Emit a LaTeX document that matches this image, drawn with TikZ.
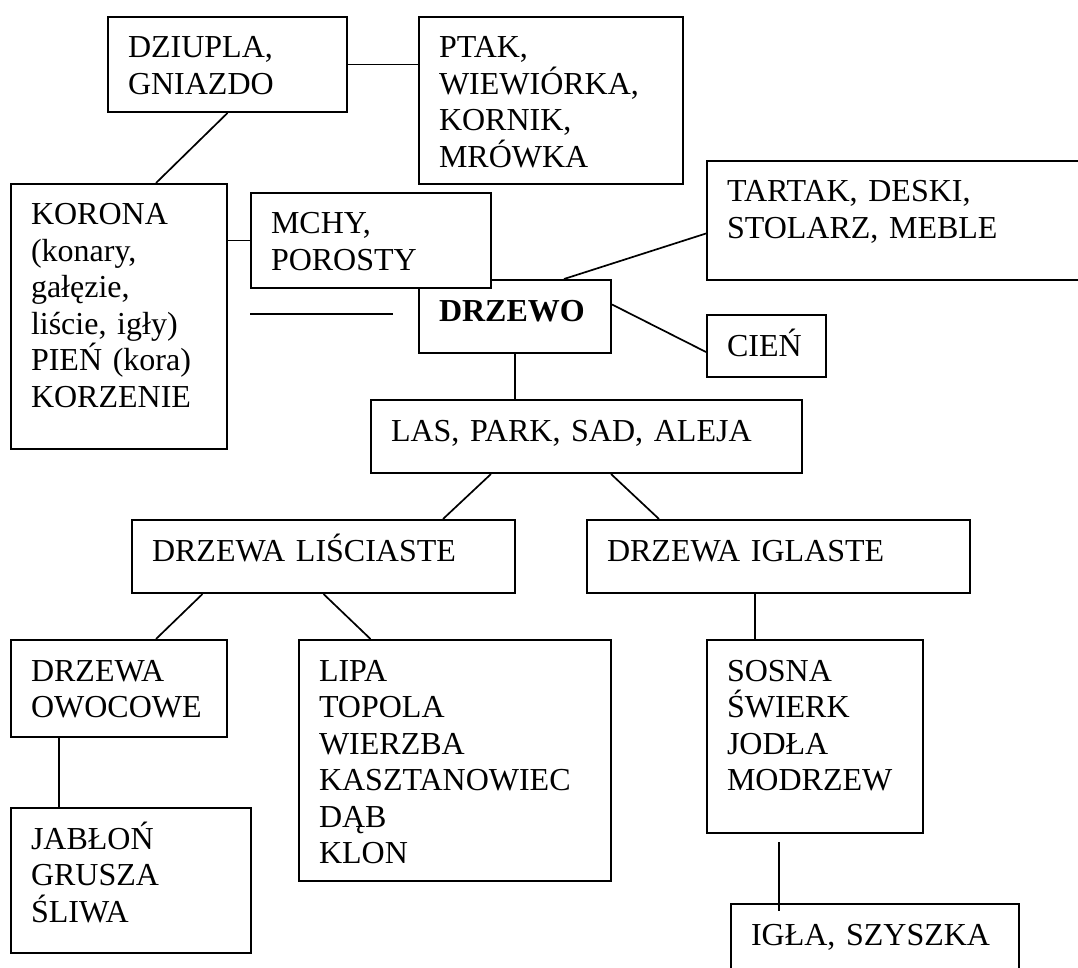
\documentclass[tikz,border=0pt]{standalone}
\usepackage{fontspec}
\setmainfont{Liberation Serif}

\begin{document}
\begin{tikzpicture}[x=1pt, y=-1pt,
    box/.style={draw, line width=2pt, fill=white, anchor=north west,
      align=left, inner xsep=20pt, inner ysep=12pt, text height=29pt,
      font=\fontsize{32}{36.5}\selectfont},
    lacznik/.style={line width=1.7pt}]
    \useasboundingbox (0,0) rectangle (1078,968);

    \node[box, text width=199pt, text depth=42pt] (dziupla) at (107,16) {DZIUPLA,\\GNIAZDO};
    \node[box, text width=224pt, text depth=114pt] (ptak) at (418,16) {PTAK,\\WIEWIÓRKA,\\KORNIK,\\MRÓWKA};
    \node[box, text width=176pt, text depth=212pt] (korona) at (10,183) {KORONA\\(konary,\\gałęzie,\\liście, igły)\\PIEŃ (kora)\\KORZENIE};
    \node[box, text width=152pt, text depth=20pt] (drzewo) at (418,279) {\textbf{DRZEWO}};
    \node[box, text width=200pt, text depth=42pt] (mchy) at (250,192) {MCHY,\\POROSTY};
    \node[box, text width=344pt, text depth=66pt] (tartak) at (706,160) {TARTAK, DESKI,\\STOLARZ, MEBLE};
    \node[box, text width=79pt, text depth=9pt] (cien) at (706,314) {CIEŃ};
    \node[box, text width=391pt, text depth=20pt] (las) at (370,399) {LAS, PARK, SAD, ALEJA};
    \node[box, text width=343pt, text depth=20pt] (lisciaste) at (131,519) {DRZEWA LIŚCIASTE};
    \node[box, text width=343pt, text depth=20pt] (iglaste) at (586,519) {DRZEWA IGLASTE};
    \node[box, text width=176pt, text depth=44pt] (owocowe) at (10,639) {DRZEWA\\OWOCOWE};
    \node[box, text width=272pt, text depth=188pt] (lipa) at (298,639) {LIPA\\TOPOLA\\WIERZBA\\KASZTANOWIEC\\DĄB\\KLON};
    \node[box, text width=176pt, text depth=140pt] (sosna) at (706,639) {SOSNA\\ŚWIERK\\JODŁA\\MODRZEW};
    \node[box, text width=200pt, text depth=92pt] (jablon) at (10,807) {JABŁOŃ\\GRUSZA\\ŚLIWA};
    \node[box, text width=248pt, text depth=47pt] (igla) at (730,903) {IGŁA, SZYSZKA};

    \coordinate (kreska1) at (250,314);
    \coordinate (kreska2) at (393,314);

    \draw[lacznik] (dziupla.east) -- (dziupla.east -| ptak.west);
    \draw[lacznik] (dziupla.south) -- ([xshift=37pt]korona.north);
    \draw[lacznik] (mchy.west -| korona.east) -- (mchy.west);
    \draw[lacznik] (kreska1) -- (kreska2);
    \draw[lacznik] ([yshift=-13pt]tartak.west) -- ([xshift=49pt]drzewo.north);
    \draw[lacznik] ([yshift=12pt]drzewo.east) -- ([yshift=-6pt]cien.west);
    \draw[lacznik] (drzewo.south) -- (drzewo.south |- las.north);
    \draw[lacznik] ([xshift=-95.5pt]las.south) -- ([xshift=119.5pt]lisciaste.north);
    \draw[lacznik] ([xshift=24.5pt]las.south) -- ([xshift=-119.5pt]iglaste.north);
    \draw[lacznik] ([xshift=-121pt]lisciaste.south) -- ([xshift=37pt]owocowe.north);
    \draw[lacznik] (lisciaste.south) -- ([xshift=-84.5pt]lipa.north);
    \draw[lacznik] ([xshift=-23.5pt]iglaste.south) coordinate (ig) -- (ig |- sosna.north);
    \draw[lacznik] ([xshift=-60pt]owocowe.south) coordinate (ow) -- (ow |- jablon.north);
    \draw[lacznik] ([shift={(-36pt,-8pt)}]sosna.south) -- ([shift={(-96pt,-8pt)}]igla.north);
  \end{tikzpicture}
\end{document}
